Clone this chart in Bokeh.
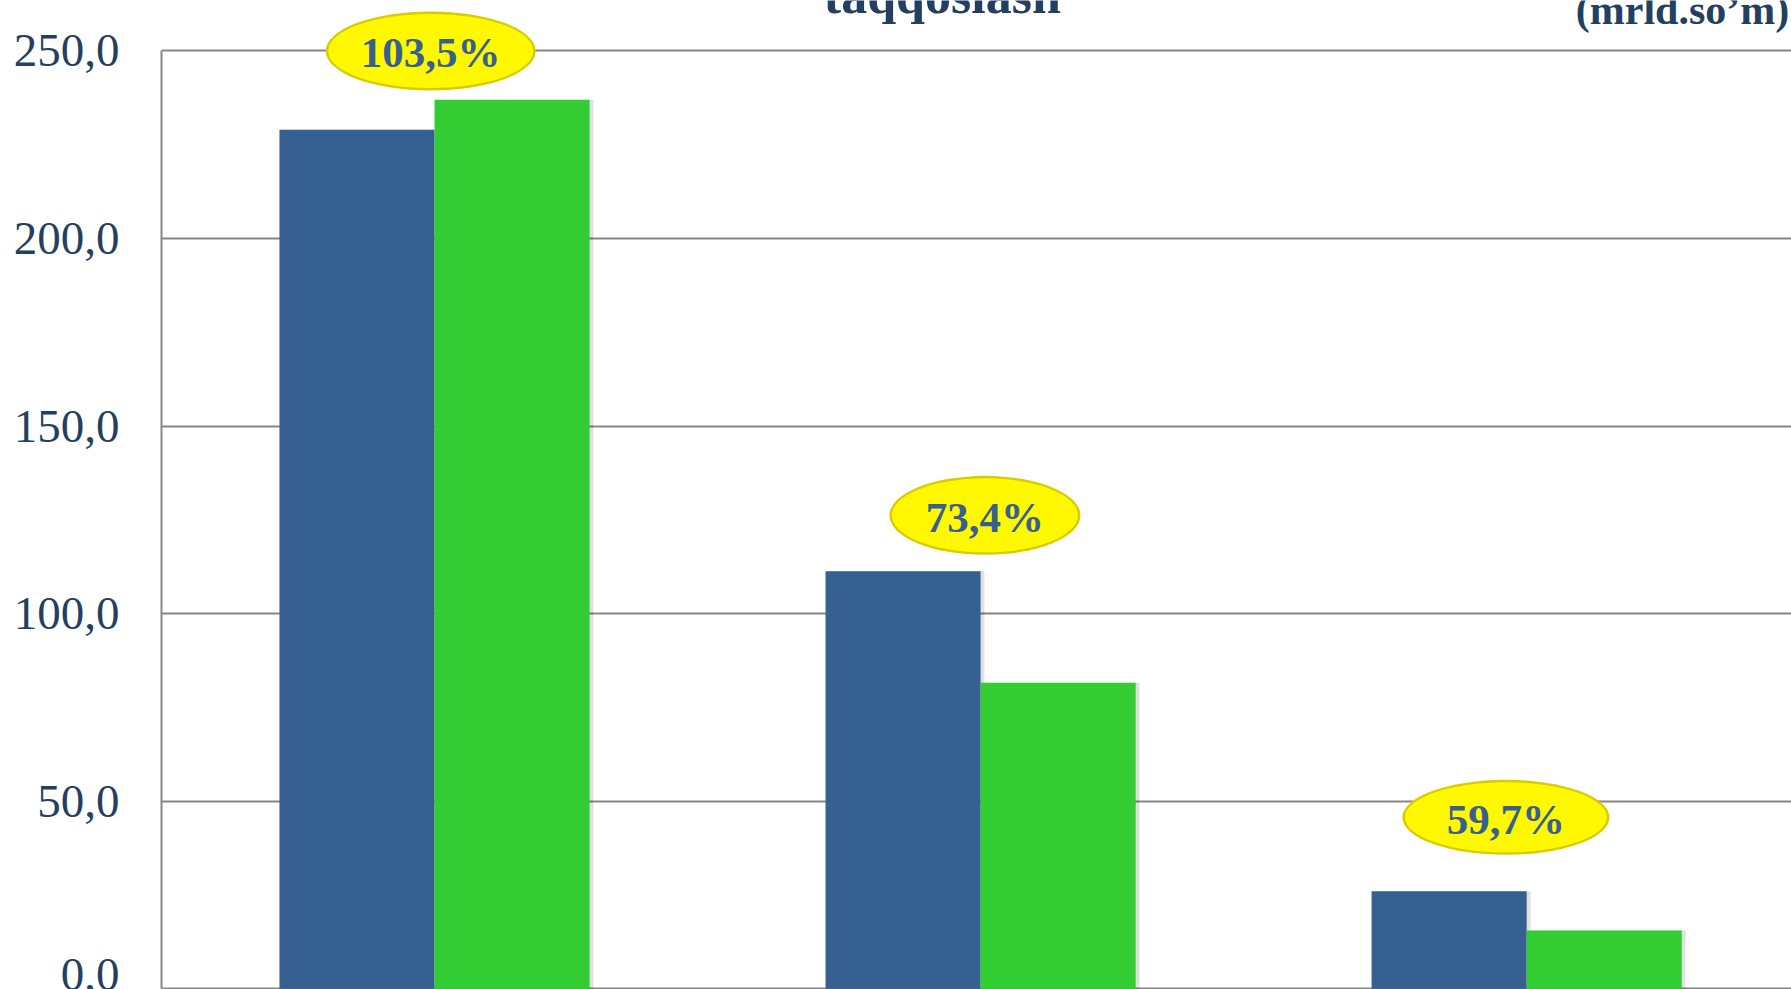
from bokeh.plotting import figure
from bokeh.models import Range1d, FixedTicker, CustomJSTickFormatter, Label, ColumnDataSource
from bokeh.core.properties import value
from bokeh.embed import file_html
from bokeh.resources import INLINE

# ---- data ----
series_a = [229.0, 111.3, 26.0]      # blue bars
series_b = [237.0, 81.6, 15.5]       # green bars
ratio_labels = ["103,5%", "73,4%", "59,7%"]
y_ticks = [0, 50, 100, 150, 200, 250]
title_text = "taqqoslash"
unit_text = "(mrld.so\u2019m)"

# ---- layout / style ----
BLUE = "#366092"
GREEN = "#33CC33"
NAVY = "#243F60"
GRID = "#868686"
bar_w = 0.284
label_y = [250.0, 126.2, 45.7]        # bubble centres (value units)
label_dx = [-0.007, 0.008, -0.038]    # bubble shift from group centre
bubble_w = [210, 191, 207]
bubble_h = [79, 79, 75]

n = len(series_a)
centers = [i + 0.5 for i in range(n)]

p = figure(width=1791, height=989, output_backend="svg", toolbar_location=None,
           x_range=Range1d(0, 2.985), y_range=Range1d(-0.2, 263.46),
           x_axis_location=None, y_axis_location="left",
           min_border_left=161, min_border_right=0, min_border_top=0, min_border_bottom=0)
p.outline_line_color = None
p.background_fill_color = "white"
p.border_fill_color = "white"
p.xgrid.visible = False
p.ygrid.grid_line_color = GRID
p.ygrid.grid_line_width = 2
p.ygrid.ticker = FixedTicker(ticks=y_ticks)

ax = p.yaxis[0]
ax.ticker = FixedTicker(ticks=y_ticks)
ax.formatter = CustomJSTickFormatter(code="return tick.toFixed(1).replace('.', ',');")
ax.major_label_text_font = "Liberation Serif"
ax.major_label_text_font_size = "47px"
ax.major_label_text_color = NAVY
ax.major_label_standoff = 42
ax.major_tick_in = 0
ax.major_tick_out = 0
ax.minor_tick_in = 0
ax.minor_tick_out = 0
ax.axis_line_color = GRID
ax.axis_line_width = 2
ax.bounds = (0, 250)

src = ColumnDataSource(dict(
    xa=[c - bar_w / 2 for c in centers],
    xb=[c + bar_w / 2 for c in centers],
    xa_s=[c - bar_w / 2 + 0.007 for c in centers],
    xb_s=[c + bar_w / 2 + 0.007 for c in centers],
    a=series_a, b=series_b,
))

# soft shadows
p.vbar(x="xa_s", top="a", bottom=0, width=bar_w, source=src,
       fill_color="black", fill_alpha=0.12, line_color=None)
p.vbar(x="xb_s", top="b", bottom=0, width=bar_w, source=src,
       fill_color="black", fill_alpha=0.12, line_color=None)
# bars
p.vbar(x="xa", top="a", bottom=0, width=bar_w, source=src,
       fill_color=BLUE, line_color=None)
p.vbar(x="xb", top="b", bottom=0, width=bar_w, source=src,
       fill_color=GREEN, line_color=None)

# bubbles
bsrc = ColumnDataSource(dict(
    x=[c + d for c, d in zip(centers, label_dx)],
    y=label_y,
    w=bubble_w, h=bubble_h,
    wi=[w - 5 for w in bubble_w], hi=[h - 5 for h in bubble_h],
    txt=ratio_labels,
))
p.ellipse(x="x", y="y", width="w", height="h", width_units="screen", height_units="screen",
          source=bsrc, fill_color="#D8CC00", line_color=None)
p.ellipse(x="x", y="y", width="wi", height="hi", width_units="screen", height_units="screen",
          source=bsrc, fill_color="#FFF800", line_color=None)
p.text(x="x", y="y", text="txt", source=bsrc, text_font=value("Liberation Serif"),
       text_font_style="bold", text_font_size="43px", text_color=BLUE,
       text_align="center", text_baseline="middle", y_offset=2)

# title fragments at the top (cropped in the reference)
p.add_layout(Label(x=1.430, y=264.66, text=title_text, text_font="Liberation Serif",
                   text_font_style="bold", text_font_size="52px", text_color=NAVY,
                   text_align="center", text_baseline="alphabetic"))
p.add_layout(Label(x=2.590, y=260.8, text=unit_text, text_font="Liberation Serif",
                   text_font_style="bold", text_font_size="42px", text_color=NAVY,
                   text_align="left", text_baseline="alphabetic"))

open("out.html", "w").write(file_html(p, INLINE))
